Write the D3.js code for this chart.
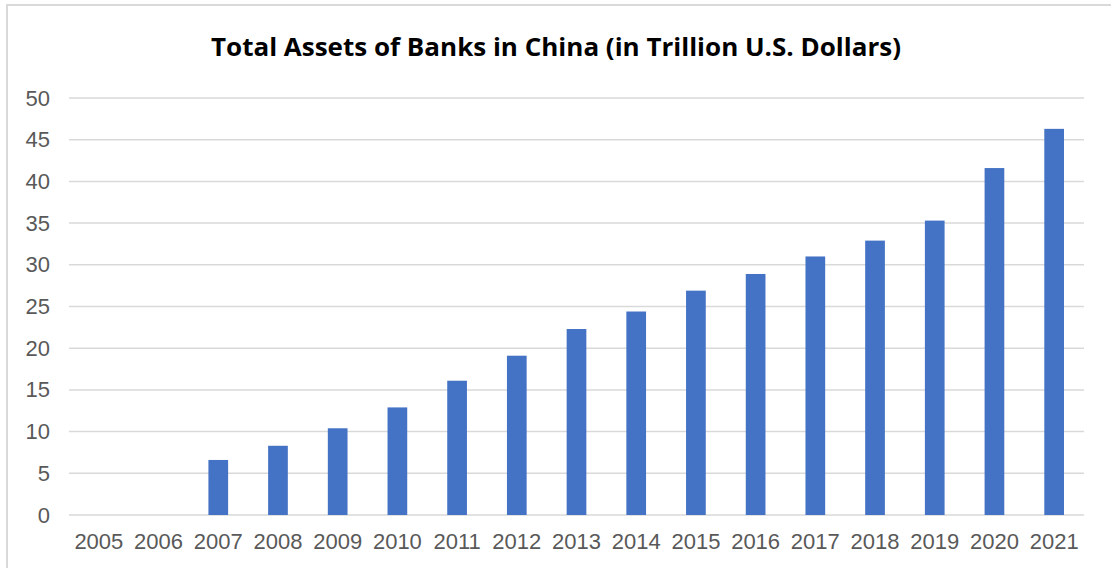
<!DOCTYPE html>
<html>
<head>
<meta charset="utf-8">
<script src="https://cdn.jsdelivr.net/npm/d3@7"></script>
<style>
body { margin: 0; background: #fff; }
</style>
</head>
<body>
<script>
// years on the x axis, 2005 and 2006 have no value
var years = ["2005","2006","2007","2008","2009","2010","2011","2012","2013",
             "2014","2015","2016","2017","2018","2019","2020","2021"];
var assets = [null, null, 6.6, 8.3, 10.4, 12.9, 16.1, 19.1, 22.3,
              24.4, 26.9, 28.9, 31.0, 32.9, 35.3, 41.6, 46.3];
var yTicks = [0, 5, 10, 15, 20, 25, 30, 35, 40, 45, 50];
var title = "Total Assets of Banks in China (in Trillion U.S. Dollars)";

var width = 1111, height = 568;
var margin = {left: 69, right: 27, top: 98, bottom: 53};

var svg = d3.select("body").append("svg")
  .attr("width", width)
  .attr("height", height);

// chart frame, only top and left show in the window
svg.append("rect")
  .attr("x", 7).attr("y", 5)
  .attr("width", width + 20).attr("height", height + 20)
  .attr("fill", "#fff")
  .attr("stroke", "#d9d9d9")
  .attr("stroke-width", 2);

var x = d3.scaleBand()
  .domain(years)
  .range([margin.left, width - margin.right])
  .paddingInner(0.67)
  .paddingOuter(0.335);

var y = d3.scaleLinear()
  .domain([0, 50])
  .range([height - margin.bottom, margin.top]);

// gridlines
svg.append("g")
  .selectAll("line")
  .data(yTicks)
  .enter()
  .append("line")
  .attr("x1", margin.left)
  .attr("x2", width - margin.right)
  .attr("y1", function(d){ return y(d); })
  .attr("y2", function(d){ return y(d); })
  .attr("stroke", "#d9d9d9")
  .attr("stroke-width", 1.5);

// y axis labels
var yAxis = d3.axisLeft(y).tickValues(yTicks).tickSize(0).tickPadding(0);
var gy = svg.append("g")
  .attr("transform", "translate(" + (margin.left - 19) + ",0)")
  .call(yAxis);
gy.select(".domain").remove();
gy.selectAll("text")
  .attr("fill", "#595959")
  .style("font-family", "'Liberation Sans', Arial, sans-serif")
  .style("font-size", "22px");

// x axis labels
var xAxis = d3.axisBottom(x).tickSize(0).tickPadding(0);
var gx = svg.append("g")
  .attr("transform", "translate(0," + (height - margin.bottom + 18) + ")")
  .call(xAxis);
gx.select(".domain").remove();
gx.selectAll("text")
  .attr("fill", "#595959")
  .style("font-family", "'Liberation Sans', Arial, sans-serif")
  .style("font-size", "22px");

// bars
svg.append("g")
  .selectAll("rect")
  .data(years.map(function(d, i){ return {year: d, value: assets[i]}; })
              .filter(function(d){ return d.value != null; }))
  .enter()
  .append("rect")
  .attr("x", function(d){ return x(d.year); })
  .attr("y", function(d){ return y(d.value); })
  .attr("width", x.bandwidth())
  .attr("height", function(d){ return y(0) - y(d.value); })
  .attr("fill", "#4472c4");

// title
svg.append("text")
  .attr("x", 556)
  .attr("y", 56)
  .attr("text-anchor", "middle")
  .attr("textLength", 690)
  .attr("lengthAdjust", "spacingAndGlyphs")
  .style("font-family", "'Open Sans', sans-serif")
  .style("font-weight", "bold")
  .style("font-size", "25px")
  .attr("fill", "#000")
  .text(title);
</script>
</body>
</html>
